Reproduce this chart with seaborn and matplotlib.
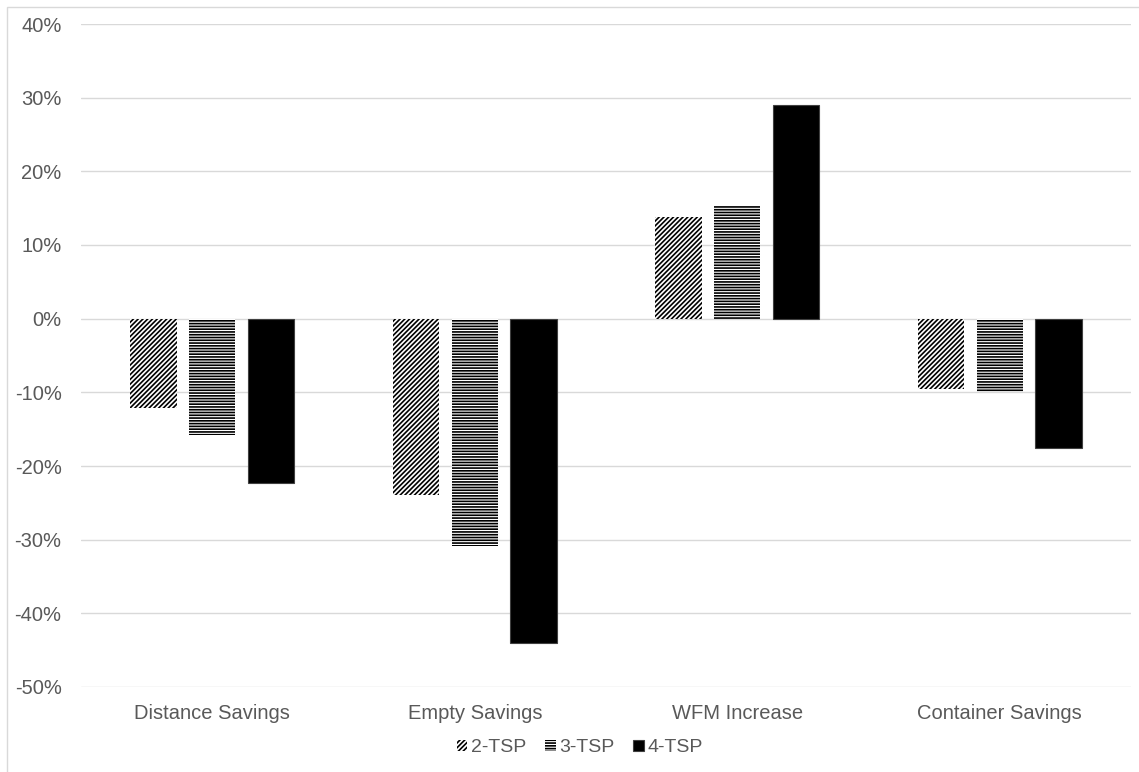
import numpy as np
import pandas as pd
import matplotlib
matplotlib.use("Agg")
import matplotlib.pyplot as plt
from matplotlib.patches import Rectangle
from matplotlib.ticker import PercentFormatter
import seaborn as sns

categories = ["Distance Savings", "Empty Savings", "WFM Increase", "Container Savings"]
series_names = ["2-TSP", "3-TSP", "4-TSP"]
tsp2 = [-12.1, -24.0, 13.8, -9.5]
tsp3 = [-15.8, -30.8, 15.4, -9.9]
tsp4 = [-22.3, -44.0, 29.0, -17.6]
y_ticks = [-50, -40, -30, -20, -10, 0, 10, 20, 30, 40]

rows = []
for name, vals in zip(series_names, [tsp2, tsp3, tsp4]):
    for c, v in zip(categories, vals):
        rows.append({"category": c, "series": name, "value": v})
df = pd.DataFrame(rows)

sns.set_theme(style="white")
plt.rcParams["font.family"] = ["Liberation Sans", "DejaVu Sans"]
plt.rcParams["hatch.linewidth"] = 1.2
plt.rcParams["axes.unicode_minus"] = False

W, H = 1139, 772
fig = plt.figure(figsize=(W / 100, H / 100), dpi=100)
ax = fig.add_axes([81 / W, 1 - 687 / H, (1131 - 81) / W, (687 - 24) / H])

palette = {"2-TSP": "white", "3-TSP": "white", "4-TSP": "black"}
sns.barplot(data=df, x="category", y="value", hue="series", order=categories,
            hue_order=series_names, palette=palette, width=0.67, gap=0.21,
            legend=False, ax=ax, saturation=1)

hatches = ["///////", "------", None]
for cont, h in zip(ax.containers, hatches):
    for p in cont:
        if h:
            p.set_hatch(h)
            p.set_edgecolor("black")
            p.set_linewidth(0)
        else:
            p.set_edgecolor("#404040")
            p.set_linewidth(0.8)

ax.set_ylim(-50, 40)
ax.set_yticks(y_ticks)
ax.yaxis.set_major_formatter(PercentFormatter(decimals=0))
ax.set_xlim(-0.5, 3.5)
ax.set_xlabel("")
ax.set_ylabel("")
ax.grid(axis="y", color="#d9d9d9", linewidth=1.0)
ax.set_axisbelow(True)
for s in ax.spines.values():
    s.set_visible(False)
ax.tick_params(axis="both", length=0, labelsize=14.5, colors="#595959")
ax.tick_params(axis="y", pad=14)
ax.tick_params(axis="x", pad=12)

leg = ax.legend(ax.containers, series_names, loc="center",
                bbox_to_anchor=(580 / W, 1 - 748 / H), bbox_transform=fig.transFigure,
                ncol=3, frameon=False, fontsize=14, handlelength=0.55,
                handleheight=0.55, handletextpad=0.2, columnspacing=0.95)
for t in leg.get_texts():
    t.set_color("#595959")

fig.add_artist(Rectangle((7 / W, -0.05), 1.1, 1 - 7 / H + 0.05,
                         transform=fig.transFigure, fill=False,
                         edgecolor="#d9d9d9", linewidth=1.0))

fig.savefig("out.png", dpi=100, facecolor="white")
